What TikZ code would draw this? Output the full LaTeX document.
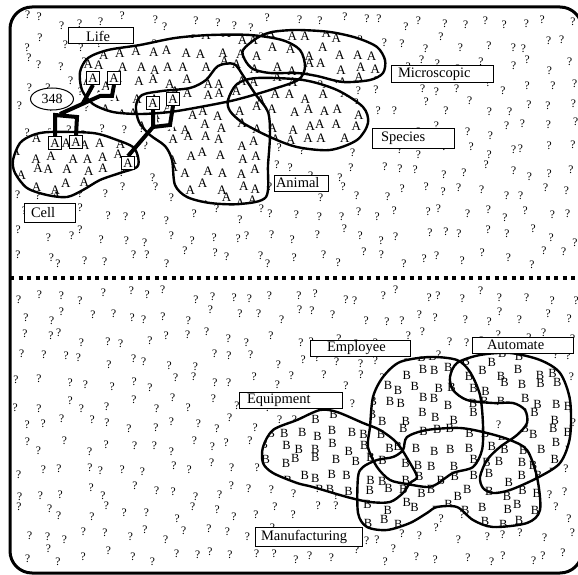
\documentclass[tikz,border=0pt]{standalone}
\usepackage{fontspec}
\setmainfont{Liberation Serif}
\usepackage{tikz}
\usetikzlibrary{shapes.geometric}
\pgfdeclarelayer{front}
\pgfsetlayers{main,front}

% blob outlines (pixel units, y down)
\newcommand{\lifeBlob}{plot[smooth cycle] coordinates {(82,90) (80,72) (88,58) (108,50) (140,45) (175,38) (210,35) (250,35) (282,40) (300,50) (305,67) (298,80) (270,90) (235,100) (200,107) (170,112) (140,114) (113,112) (93,104)}}
\newcommand{\microBlob}{plot[smooth cycle] coordinates {(243,50) (257,38) (272,32) (297,30) (330,32) (357,38) (377,47) (385,60) (383,73) (370,80) (343,82) (317,76) (297,73) (270,73) (253,69) (245,60)}}
\newcommand{\speciesBlob}{plot[smooth cycle] coordinates {(228,100) (237,84) (257,78) (303,80) (337,90) (363,107) (368,123) (357,140) (330,150) (297,147) (270,137) (243,123) (230,111)}}
\newcommand{\animalBlob}{plot[smooth cycle] coordinates {(136,106) (142,95) (162,91) (190,88) (206,80) (218,66) (234,64) (244,77) (256,95) (268,112) (270,135) (268,165) (266,197) (240,204) (210,203) (187,197) (175,185) (172,160) (165,146) (150,135) (139,122)}}
\newcommand{\cellBlob}{plot[smooth cycle] coordinates {(13,160) (20,143) (33,135) (50,132) (93,133) (117,140) (133,147) (138,157) (137,167) (120,173) (100,180) (83,190) (67,197) (47,195) (27,188) (15,173)}}
\newcommand{\equipBlob}{plot[smooth cycle] coordinates {(263,447) (273,430) (297,420) (320,410) (337,412) (363,423) (380,430) (397,443) (410,463) (417,477) (410,483) (403,493) (390,502) (370,502) (347,497) (313,487) (297,483) (273,473) (263,463)}}
\newcommand{\employeeBlob}{plot[smooth cycle] coordinates {(370,427) (373,397) (383,377) (400,362) (430,357) (457,360) (470,372) (480,395) (483,425) (482,450) (473,467) (453,473) (437,484) (427,487) (407,484) (390,480) (377,467) (368,447)}}
\newcommand{\automateBlob}{plot[smooth cycle] coordinates {(457,363) (480,355) (510,353) (540,360) (560,373) (570,400) (570,437) (560,463) (537,478) (510,490) (493,493) (483,488) (480,477) (487,460) (500,447) (517,435) (527,423) (525,410) (513,403) (493,403) (467,400) (453,390) (450,377)}}
\newcommand{\manufBlob}{plot[smooth cycle] coordinates {(358,477) (363,467) (377,460) (393,457) (403,450) (407,437) (427,430) (460,428) (487,433) (510,440) (527,450) (537,477) (540,510) (527,523) (493,527) (473,520) (457,507) (437,507) (427,513) (410,523) (387,530) (367,527) (358,513)}}

\tikzset{
  frameLine/.style={line width=3pt, rounded corners=22pt},
  divider/.style={line width=4pt, dash pattern=on 4pt off 4.5pt},
  blobLine/.style={line width=2.4pt},
  qm/.style={font=\fontsize{11.5}{12}\selectfont, inner sep=0pt},
  letterA/.style={font=\fontsize{13}{13}\selectfont, inner sep=0pt},
  letterB/.style={font=\fontsize{12.5}{13}\selectfont, inner sep=0pt},
  boxA/.style={draw, fill=white, line width=0.9pt, font=\fontsize{13}{13}\selectfont, minimum size=13pt, inner sep=0pt},
  wire/.style={line width=4pt, preaction={draw=white, line width=8pt}},
  lab/.style={draw, fill=white, line width=1pt, font=\fontsize{14.5}{15}\selectfont, anchor=north west, align=left, inner ysep=0pt, outer sep=0pt},
  oval/.style={draw, fill=white, ellipse, line width=1pt, minimum width=43pt, minimum height=22pt, inner sep=0pt, font=\fontsize{14}{14}\selectfont}
}

\begin{document}
\begin{tikzpicture}[x=1pt, y=-1pt]
\useasboundingbox (0,0) rectangle (578,575);
\clip (0,0) rectangle (578,575);

% scattered question marks
\pgfmathsetseed{31}
\foreach \qr in {0,...,11}{
  \foreach \qc in {0,...,26}{
    \pgfmathsetmacro{\qx}{23+21*\qc+8*rand}
    \pgfmathsetmacro{\qy}{21+21.5*\qr+7*rand}
    \node[qm] (qu\qr-\qc) at (\qx,\qy) {?};
  }
}
\foreach \qr in {0,...,12}{
  \foreach \qc in {0,...,26}{
    \pgfmathsetmacro{\qx}{23+21*\qc+8*rand}
    \pgfmathsetmacro{\qy}{294+21.8*\qr+7*rand}
    \node[qm] (ql\qr-\qc) at (\qx,\qy) {?};
  }
}

% blob interiors
\fill[white] \lifeBlob \microBlob \speciesBlob \animalBlob \cellBlob;
\fill[white] \equipBlob \employeeBlob \automateBlob \manufBlob;

\begin{scope}
  \clip \lifeBlob \microBlob \speciesBlob \animalBlob \cellBlob;
  \foreach \ar in {0,...,11}{
    \foreach \ac in {0,...,22}{
      \pgfmathsetmacro{\lx}{18+17*\ac+5*rand}
      \pgfmathsetmacro{\ly}{36+15*\ar+5*rand}
      \node[letterA] (la\ar-\ac) at (\lx,\ly) {A};
    }
  }
\end{scope}
\begin{scope}
  \clip \equipBlob \employeeBlob \automateBlob \manufBlob;
  \foreach \br in {0,...,11}{
    \foreach \bc in {0,...,18}{
      \pgfmathsetmacro{\lx}{266+17*\bc+5*rand}
      \pgfmathsetmacro{\ly}{357+15*\br+5*rand}
      \node[letterB] (lb\br-\bc) at (\lx,\ly) {B};
    }
  }
\end{scope}

% boxed A's
\begin{pgfonlayer}{front}
\node[boxA] (a1) at (93,78) {A};
\node[boxA] (a2) at (114,78) {A};
\node[boxA] (a3) at (55,143) {A};
\node[boxA] (a4) at (76,142) {A};
\node[boxA] (a5) at (153,103) {A};
\node[boxA] (a6) at (173,99) {A};
\node[boxA] (a7) at (128,163) {A};
\end{pgfonlayer}

\coordinate (t1) at (83,103);
\coordinate (b2) at (112,96);
\coordinate (k1) at (100,96);
\coordinate (m0) at (60,114);
\coordinate (m1) at (55,115);
\coordinate (m2) at (77,117);
\coordinate (j2) at (153,127);
\coordinate (b6) at (170,125);
\draw[wire] (a1.south) -- (t1)
  (a2.south) -- (b2) -- (k1) -- (m0)
  (a3.north) -- (m1) -- (m2) -- (a4.north)
  (a5.south) -- (j2) -- (b6) -- (a6.south)
  (j2) -- (a7.north);

% blob outlines
\draw[blobLine] \lifeBlob \microBlob \speciesBlob \animalBlob \cellBlob;
\draw[blobLine] \equipBlob \employeeBlob \automateBlob \manufBlob;

\node[oval] (n348) at (52,99) {348};

% labels
\node[lab, text width=29pt, inner xsep=18pt, minimum height=16pt] (life) at (68,28) {Life};
\node[lab, text width=37pt, inner xsep=7pt, minimum height=19pt] (cell) at (24,203) {Cell};
\node[lab, text width=88pt, inner xsep=7pt, minimum height=17pt] (micro) at (391,66) {Microscopic};
\node[lab, text width=64pt, inner xsep=9pt, minimum height=19pt] (species) at (372,129) {Species};
\node[lab, text width=50pt, inner xsep=2pt, minimum height=16pt] (animal) at (274,175) {Animal};
\node[lab, text width=66pt, inner xsep=17pt, minimum height=16pt] (employee) at (310,340) {Employee};
\node[lab, text width=71pt, inner xsep=15pt, minimum height=16pt] (automate) at (472,337) {Automate};
\node[lab, text width=87pt, inner xsep=8pt, minimum height=16pt] (equipment) at (239,392) {Equipment};
\node[lab, text width=95pt, inner xsep=6pt, minimum height=19pt] (manuf) at (255,527) {Manufacturing};

\draw[divider] (10,278) -- (578,278);
\draw[frameLine] (10,7) rectangle (582,573);
\end{tikzpicture}
\end{document}
